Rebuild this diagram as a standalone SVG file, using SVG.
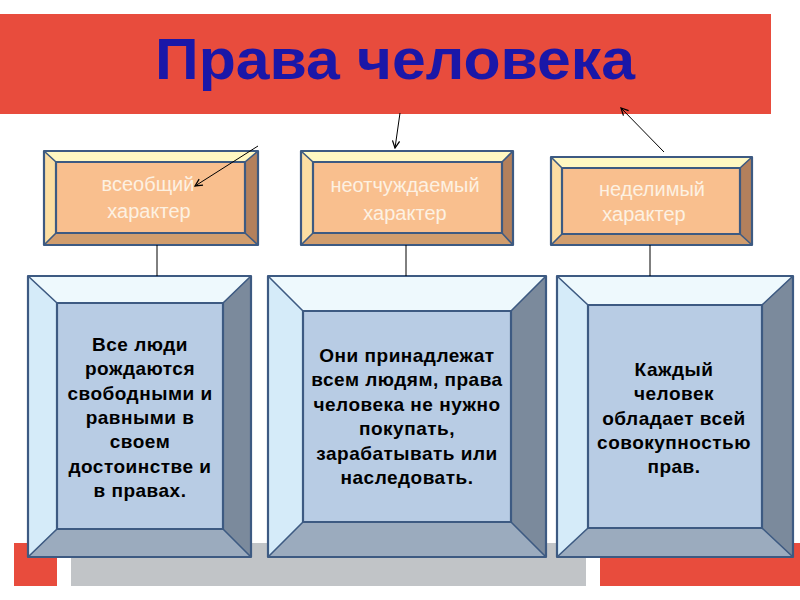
<svg xmlns="http://www.w3.org/2000/svg" width="800" height="600" viewBox="0 0 800 600">
<style>
.bg{fill:#ffffff}
.hdr{fill:#e84c3d}
.ttl{font-family:"Liberation Sans",Arial,sans-serif;font-weight:bold;font-size:57px;fill:#1a17a8}
.t-top{fill:#fff8c2}.t-left{fill:#fcdea2}.t-right{fill:#b3805c}.t-bot{fill:#d19d6d}.t-in{fill:#f9bf8e}
.b-top{fill:#eef9fd}.b-left{fill:#d5ebf9}.b-right{fill:#7b8a9c}.b-bot{fill:#9babbe}.b-in{fill:#b8cce4}
.edge{fill:none;stroke:#3d5a82;stroke-width:2.2;stroke-linejoin:round}
.ln{fill:none;stroke:#3d5a82;stroke-width:1.6}
.lbl{font-family:"Liberation Sans",Arial,sans-serif;font-size:20px;fill:#fdf1e2;text-anchor:middle}
.txt{font-family:"Liberation Sans",Arial,sans-serif;font-weight:bold;font-size:19px;letter-spacing:0.5px;fill:#000;text-anchor:middle}
.con{fill:none;stroke:#000;stroke-width:1}
.red{fill:#e84c3d}.grey{fill:#c1c4c7}
</style>
<defs>
<marker id="ah" viewBox="0 0 10 10" refX="9" refY="5" markerWidth="9" markerHeight="9" markerUnits="userSpaceOnUse" orient="auto">
<path d="M1,1 L9,5 L1,9" fill="none" stroke="#000" stroke-width="1.4"/>
</marker>
</defs>
<rect class="bg" x="0" y="0" width="800" height="600"/>

<g id="decor">
<rect class="red" x="14" y="543" width="43" height="43"/>
<rect class="grey" x="71" y="543" width="515" height="43"/>
<rect class="red" x="600" y="543" width="200" height="43"/>
</g>

<g id="title">
<rect class="hdr" x="0" y="14" width="771" height="100"/>
<text class="ttl" x="395" y="79" text-anchor="middle" textLength="480" lengthAdjust="spacingAndGlyphs">Права человека</text>
</g>

<g id="node-universal">
<polygon class="t-top" points="44,151 258,151 245,162 56,162"/>
<polygon class="t-left" points="44,151 56,162 56,233 44,245"/>
<polygon class="t-right" points="258,151 258,245 245,233 245,162"/>
<polygon class="t-bot" points="44,245 56,233 245,233 258,245"/>
<rect class="t-in" x="56" y="162" width="189" height="71"/>
<path class="ln" d="M44,151 L56,162 M258,151 L245,162 M44,245 L56,233 M258,245 L245,233"/>
<rect class="edge" x="56" y="162" width="189" height="71"/>
<rect class="edge" x="44" y="151" width="214" height="94"/>
<text class="lbl" x="148" y="191">всеобщий</text>
<text class="lbl" x="149" y="218">характер</text>
</g>

<g id="node-inalienable">
<polygon class="t-top" points="301,151 513,151 502,162 313,162"/>
<polygon class="t-left" points="301,151 313,162 313,233 301,245"/>
<polygon class="t-right" points="513,151 513,245 502,233 502,162"/>
<polygon class="t-bot" points="301,245 313,233 502,233 513,245"/>
<rect class="t-in" x="313" y="162" width="189" height="71"/>
<path class="ln" d="M301,151 L313,162 M513,151 L502,162 M301,245 L313,233 M513,245 L502,233"/>
<rect class="edge" x="313" y="162" width="189" height="71"/>
<rect class="edge" x="301" y="151" width="212" height="94"/>
<text class="lbl" x="405" y="192">неотчуждаемый</text>
<text class="lbl" x="405" y="220">характер</text>
</g>

<g id="node-indivisible">
<polygon class="t-top" points="551,157 752,157 740,168 562,168"/>
<polygon class="t-left" points="551,157 562,168 562,234 551,245"/>
<polygon class="t-right" points="752,157 752,245 740,234 740,168"/>
<polygon class="t-bot" points="551,245 562,234 740,234 752,245"/>
<rect class="t-in" x="562" y="168" width="178" height="66"/>
<path class="ln" d="M551,157 L562,168 M752,157 L740,168 M551,245 L562,234 M752,245 L740,234"/>
<rect class="edge" x="562" y="168" width="178" height="66"/>
<rect class="edge" x="551" y="157" width="201" height="88"/>
<text class="lbl" x="652" y="196">неделимый</text>
<text class="lbl" x="644" y="221">характер</text>
</g>

<g id="node-desc1">
<polygon class="b-top" points="28,276 251,276 223,303 57,303"/>
<polygon class="b-left" points="28,276 57,303 57,529 28,557"/>
<polygon class="b-right" points="251,276 251,557 223,529 223,303"/>
<polygon class="b-bot" points="28,557 57,529 223,529 251,557"/>
<rect class="b-in" x="57" y="303" width="166" height="226"/>
<path class="ln" d="M28,276 L57,303 M251,276 L223,303 M28,557 L57,529 M251,557 L223,529"/>
<rect class="edge" x="57" y="303" width="166" height="226"/>
<rect class="edge" x="28" y="276" width="223" height="281"/>
<text class="txt" x="140" y="351">Все люди</text>
<text class="txt" x="140" y="375">рождаются</text>
<text class="txt" x="140" y="400">свободными и</text>
<text class="txt" x="140" y="424">равными в</text>
<text class="txt" x="140" y="448">своем</text>
<text class="txt" x="140" y="473">достоинстве и</text>
<text class="txt" x="140" y="497">в правах.</text>
</g>

<g id="node-desc2">
<polygon class="b-top" points="268,276 546,276 511,311 303,311"/>
<polygon class="b-left" points="268,276 303,311 303,522 268,557"/>
<polygon class="b-right" points="546,276 546,557 511,522 511,311"/>
<polygon class="b-bot" points="268,557 303,522 511,522 546,557"/>
<rect class="b-in" x="303" y="311" width="208" height="211"/>
<path class="ln" d="M268,276 L303,311 M546,276 L511,311 M268,557 L303,522 M546,557 L511,522"/>
<rect class="edge" x="303" y="311" width="208" height="211"/>
<rect class="edge" x="268" y="276" width="278" height="281"/>
<text class="txt" x="407" y="362">Они принадлежат</text>
<text class="txt" x="407" y="386">всем людям, права</text>
<text class="txt" x="407" y="411">человека не нужно</text>
<text class="txt" x="407" y="435">покупать,</text>
<text class="txt" x="407" y="460">зарабатывать или</text>
<text class="txt" x="407" y="484">наследовать.</text>
</g>

<g id="node-desc3">
<polygon class="b-top" points="557,276 793,276 762,305 588,305"/>
<polygon class="b-left" points="557,276 588,305 588,528 557,557"/>
<polygon class="b-right" points="793,276 793,557 762,528 762,305"/>
<polygon class="b-bot" points="557,557 588,528 762,528 793,557"/>
<rect class="b-in" x="588" y="305" width="174" height="223"/>
<path class="ln" d="M557,276 L588,305 M793,276 L762,305 M557,557 L588,528 M793,557 L762,528"/>
<rect class="edge" x="588" y="305" width="174" height="223"/>
<rect class="edge" x="557" y="276" width="236" height="281"/>
<text class="txt" x="674" y="376">Каждый</text>
<text class="txt" x="674" y="400">человек</text>
<text class="txt" x="674" y="425">обладает всей</text>
<text class="txt" x="674" y="449">совокупностью</text>
<text class="txt" x="674" y="473">прав.</text>
</g>

<g id="connectors">
<line class="con" x1="258" y1="146" x2="195" y2="186" marker-end="url(#ah)"/>
<line class="con" x1="400" y1="113" x2="395" y2="148" marker-end="url(#ah)"/>
<line class="con" x1="664" y1="152" x2="621" y2="108" marker-end="url(#ah)"/>
<line class="con" x1="157" y1="245" x2="157" y2="276"/>
<line class="con" x1="406" y1="245" x2="406" y2="276"/>
<line class="con" x1="650" y1="245" x2="650" y2="276"/>
</g>
</svg>
